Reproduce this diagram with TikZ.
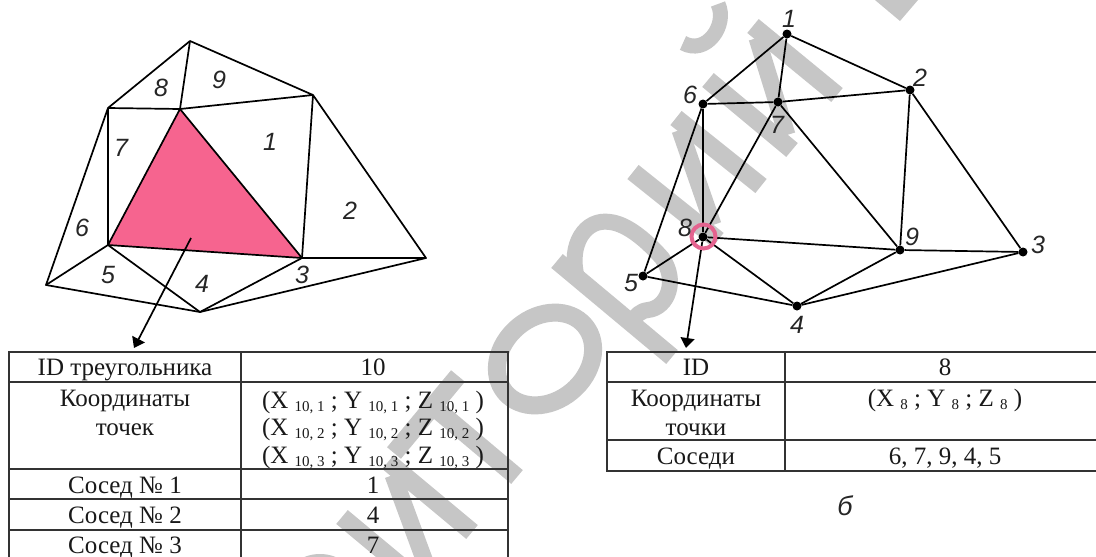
\documentclass[tikz,border=0pt]{standalone}
\usepackage{fontspec}
\setmainfont{Liberation Serif}
\newfontfamily\lblfont{Liberation Sans}[ItalicFont=* Italic]
\usetikzlibrary{arrows.meta}
\definecolor{wm}{HTML}{C6C6C6}
\definecolor{pinkfill}{HTML}{F6648F}
\definecolor{pinkring}{HTML}{E4638F}
\definecolor{rule}{HTML}{333333}
\newcommand{\sbs}[1]{ {\fontsize{15}{15}\selectfont\raisebox{-3.5pt}{#1}} }
\newcommand{\xyz}[1]{(X\sbs{#1}; Y\sbs{#1}; Z\sbs{#1})}
\tikzset{
  wmark/.style={draw=wm,line width=18pt,line cap=butt,line join=bevel},
  mesh/.style={draw=black,line width=1.7pt,line join=round},
  arrowline/.style={draw=black,line width=1.7pt,-{Triangle[width=14pt,length=10pt]},shorten >=0pt},
  dotnode/.style={circle,fill=black,inner sep=0pt,minimum size=9pt},
  num/.style={font=\lblfont\itshape\fontsize{25}{25}\selectfont,inner sep=0pt,text=black!85},
  tline/.style={draw=rule,line width=1.4pt},
  cell/.style={font=\fontsize{25}{25}\selectfont,anchor=base,inner sep=0pt,text=black!90},
}
\begin{document}
\begin{tikzpicture}[x=1pt,y=-1pt]
\useasboundingbox (0,0) rectangle (1096,557);
\fill[white] (0,0) rectangle (1096,557);
% watermark
\begin{scope}
\clip (0,0) rectangle (1096,557);
\fill[wm] (875,0) -- (918,0) -- (900,21) -- cycle;
\draw[wmark,line width=15pt] (718,4) .. controls (728,25) and (706,56) .. (683,43);
\draw[wmark] (753,26) -- (837,95);
\draw[wmark] (708,80) -- (792,150);
\draw[wmark,line width=17pt] (757,38) -- (787,135);
\draw[wmark] (676,118) -- (761,186);
\draw[wmark] (633,172) -- (718,240);
\draw[wmark,line width=17pt] (680,130) -- (713,225);
\draw[wmark] (557,261) -- (672,357);
\draw[wmark,line width=16pt] (577,278) .. controls (568,245) and (585,218) .. (610,222)
   .. controls (628,224) and (648,242) .. (662,258)
   .. controls (678,280) and (668,308) .. (648,310) .. controls (640,311) and (636,315) .. (631,324);
\draw[wmark,rotate around={40:(545,359)}] (545,359) ellipse [x radius=52,y radius=42];
\draw[wmark] (458,376) -- (394,453);
\draw[wmark] (517,477) -- (429,403);
\draw[wmark] (388,462) -- (472,532);
\draw[wmark,line width=17pt] (393,475) -- (428,570);
\draw[wmark] (342,517) -- (450,607);
\draw[wm,line width=9pt] (298,566) .. controls (310,556) and (330,556) .. (342,566);
\end{scope}
% left mesh
\coordinate (la) at (190,41);
\coordinate (lb) at (108,108);
\coordinate (lc) at (180,109);
\coordinate (ld) at (313,95);
\coordinate (le) at (108,245);
\coordinate (lf) at (302,258);
\coordinate (lg) at (426,258);
\coordinate (lh) at (46,285);
\coordinate (li) at (200,312);
\coordinate (larrowstart) at (191,238);
\coordinate (larrowtip) at (134,348);
\fill[pinkfill] (lc) -- (le) -- (lf) -- cycle;
\draw[mesh] (lb) -- (la) -- (ld) -- (lg) -- (li) -- (lh) -- (lb) -- (lc) -- (ld) -- (lf) -- (lg);
\draw[mesh] (la) -- (lc) -- (le) -- (lb);
\draw[mesh] (lc) -- (lf) -- (le) -- (lh);
\draw[mesh] (le) -- (li) -- (lf);
\draw[arrowline] (larrowstart) -- (larrowtip);
\node[num] (ln8) at (161,88) {8};
\node[num] (ln9) at (219,80) {9};
\node[num] (ln1) at (270,142) {1};
\node[num] (ln7) at (121,148) {7};
\node[num] (ln2) at (350,211) {2};
\node[num] (ln6) at (82,228) {6};
\node[num] (ln5) at (108,275) {5};
\node[num] (ln4) at (202,284) {4};
\node[num] (ln3) at (302,275) {3};
% right mesh
\node[dotnode] (r1) at (787,34) {};
\node[dotnode] (r2) at (910,90) {};
\node[dotnode] (r3) at (1023,252) {};
\node[dotnode] (r4) at (797,306) {};
\node[dotnode] (r5) at (643,276) {};
\node[dotnode] (r6) at (703,104) {};
\node[dotnode] (r7) at (778,102) {};
\node[dotnode] (r8) at (703,237) {};
\node[dotnode] (r9) at (900,250) {};
\coordinate (rarrowtip) at (686,348);
\draw[mesh] (r1) -- (r6);
\draw[mesh] (r1) -- (r7);
\draw[mesh] (r1) -- (r2);
\draw[mesh] (r6) -- (r7);
\draw[mesh] (r7) -- (r2);
\draw[mesh] (r6) -- (r8);
\draw[mesh] (r6) -- (r5);
\draw[mesh] (r7) -- (r8);
\draw[mesh] (r7) -- (r9);
\draw[mesh] (r2) -- (r9);
\draw[mesh] (r2) -- (r3);
\draw[mesh] (r8) -- (r9);
\draw[mesh] (r9) -- (r3);
\draw[mesh] (r8) -- (r5);
\draw[mesh] (r8) -- (r4);
\draw[mesh] (r5) -- (r4);
\draw[mesh] (r4) -- (r9);
\draw[mesh] (r4) -- (r3);
\draw[arrowline] (r8) -- (rarrowtip);
\node[circle,draw=pinkring,line width=4pt,minimum size=24pt,inner sep=0pt] (rring) at (703.5,236.5) {};
\node[num] (rn1) at (789,19) {1};
\node[num] (rn2) at (920,78) {2};
\node[num] (rn3) at (1038,245) {3};
\node[num] (rn4) at (797,325) {4};
\node[num] (rn5) at (631,283) {5};
\node[num] (rn6) at (690,95) {6};
\node[num] (rn7) at (777,125) {7};
\node[num] (rn8) at (685,228) {8};
\node[num] (rn9) at (912,237) {9};
% left table
\draw[tline] (9,557) -- (9,352) -- (508,352) -- (508,557);
\draw[tline] (241,352) -- (241,557);
\draw[tline] (9,382) -- (508,382);
\draw[tline] (9,469) -- (508,469);
\draw[tline] (9,499) -- (508,499);
\draw[tline] (9,530) -- (508,530);
\node[cell] (t1a) at (125,375) {ID треугольника};
\node[cell] (t1b) at (373,375) {10};
\node[cell] (t2a) at (125,406) {Координаты};
\node[cell] (t2b) at (125,435) {точек};
\node[cell] (t3a) at (373,408) {\xyz{10, 1}};
\node[cell] (t3b) at (373,435) {\xyz{10, 2}};
\node[cell] (t3c) at (373,463) {\xyz{10, 3}};
\node[cell] (t4a) at (125,493) {Сосед № 1};
\node[cell] (t4b) at (373,493) {1};
\node[cell] (t5a) at (125,523) {Сосед № 2};
\node[cell] (t5b) at (373,523) {4};
\node[cell] (t6a) at (125,553) {Сосед № 3};
\node[cell] (t6b) at (373,553) {7};
% right table
\draw[tline] (1096,352) -- (607,352) -- (607,471) -- (1096,471);
\draw[tline] (785,352) -- (785,471);
\draw[tline] (607,382) -- (1096,382);
\draw[tline] (607,440) -- (1096,440);
\node[cell] (u1a) at (696,375) {ID};
\node[cell] (u1b) at (945,375) {8};
\node[cell] (u2a) at (696,406) {Координаты};
\node[cell] (u2b) at (696,435) {точки};
\node[cell] (u3) at (945,406) {(X\sbs{8}; Y\sbs{8}; Z\sbs{8})};
\node[cell] (u4a) at (696,464) {Соседи};
\node[cell] (u4b) at (945,464) {6, 7, 9, 4, 5};
\node[num,anchor=base,font=\lblfont\itshape\fontsize{27}{27}\selectfont] (cap) at (845,515) {б};
\end{tikzpicture}
\end{document}
